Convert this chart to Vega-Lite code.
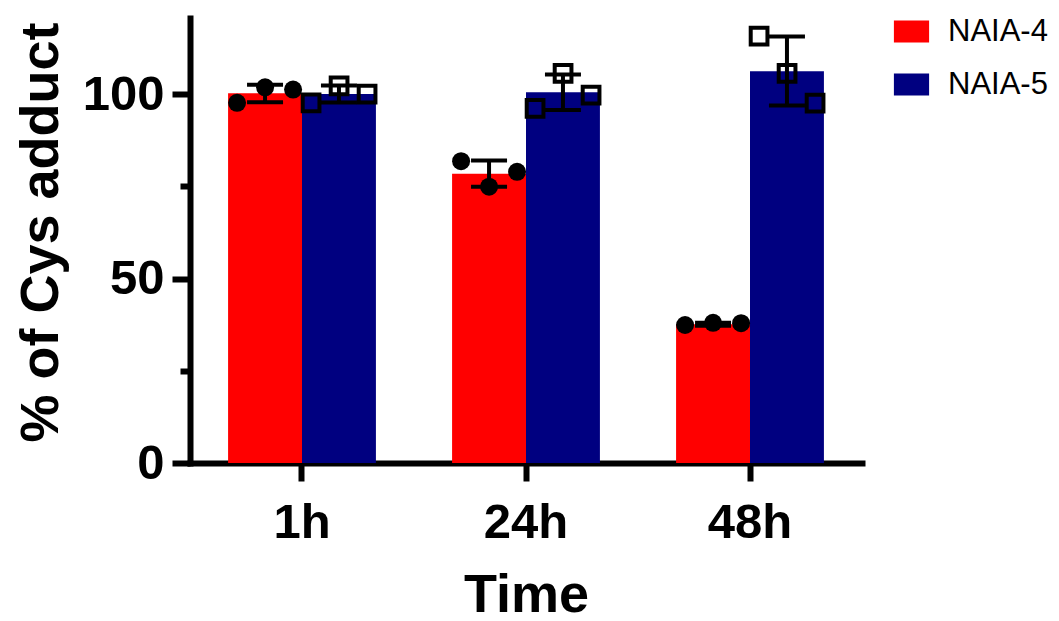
{
  "$schema": "https://vega.github.io/schema/vega-lite/v6.json",
  "width": 672,
  "height": 445,
  "autosize": {"type": "none"},
  "padding": {"left": 190, "top": 18, "right": 197, "bottom": 158},
  "background": "white",
  "config": {"view": {"stroke": null}, "font": "Liberation Sans"},
  "datasets": {
    "summary": [
      {"time": "1h", "series": "NAIA-4", "mean": 100.2, "lo": 97.8, "hi": 102.5},
      {"time": "1h", "series": "NAIA-5", "mean": 100.0, "lo": 97.7, "hi": 102.3},
      {"time": "24h", "series": "NAIA-4", "mean": 78.4, "lo": 74.9, "hi": 82.0},
      {"time": "24h", "series": "NAIA-5", "mean": 100.5, "lo": 95.7, "hi": 105.3},
      {"time": "48h", "series": "NAIA-4", "mean": 37.6, "lo": 37.2, "hi": 38.0},
      {"time": "48h", "series": "NAIA-5", "mean": 106.2, "lo": 96.9, "hi": 115.6}
    ],
    "points": [
      {"time": "1h", "series": "NAIA-4", "rep": "1", "value": 97.6},
      {"time": "1h", "series": "NAIA-4", "rep": "2", "value": 101.8},
      {"time": "1h", "series": "NAIA-4", "rep": "3", "value": 101.2},
      {"time": "1h", "series": "NAIA-5", "rep": "1", "value": 97.6},
      {"time": "1h", "series": "NAIA-5", "rep": "2", "value": 102.2},
      {"time": "1h", "series": "NAIA-5", "rep": "3", "value": 100.0},
      {"time": "24h", "series": "NAIA-4", "rep": "1", "value": 81.8},
      {"time": "24h", "series": "NAIA-4", "rep": "2", "value": 74.9},
      {"time": "24h", "series": "NAIA-4", "rep": "3", "value": 78.9},
      {"time": "24h", "series": "NAIA-5", "rep": "1", "value": 96.1},
      {"time": "24h", "series": "NAIA-5", "rep": "2", "value": 105.6},
      {"time": "24h", "series": "NAIA-5", "rep": "3", "value": 99.7},
      {"time": "48h", "series": "NAIA-4", "rep": "1", "value": 37.4},
      {"time": "48h", "series": "NAIA-4", "rep": "2", "value": 38.0},
      {"time": "48h", "series": "NAIA-4", "rep": "3", "value": 37.9},
      {"time": "48h", "series": "NAIA-5", "rep": "1", "value": 115.7},
      {"time": "48h", "series": "NAIA-5", "rep": "2", "value": 105.6},
      {"time": "48h", "series": "NAIA-5", "rep": "3", "value": 97.5}
    ]
  },
  "layer": [
    {
      "data": {"name": "summary"},
      "mark": {"type": "bar"},
      "encoding": {
        "x": {
          "field": "time", "type": "nominal", "sort": ["1h", "24h", "48h"], "title": "Time",
          "scale": {"paddingInner": 0.34, "paddingOuter": 0.17},
          "axis": {
            "domainColor": "black", "domainWidth": 6, "domainCap": "square",
            "tickColor": "black", "tickWidth": 6, "tickSize": 18,
            "labelFont": "Liberation Sans", "labelFontWeight": "bold", "labelFontSize": 49,
            "labelColor": "black", "labelAngle": 0, "labelBaseline": "alphabetic", "labelPadding": 56,
            "titleFont": "Liberation Sans", "titleFontWeight": "bold", "titleFontSize": 54,
            "titleColor": "black", "titleBaseline": "alphabetic", "titleY": 148
          }
        },
        "xOffset": {"field": "series", "type": "nominal", "sort": ["NAIA-4", "NAIA-5"]},
        "y": {
          "field": "mean", "type": "quantitative", "title": "% of Cys adduct",
          "scale": {"domain": [0, 120.6], "nice": false},
          "axis": {
            "values": [0, 25, 50, 75, 100],
            "labelExpr": "datum.value % 50 === 0 ? datum.label : ''",
            "tickSize": {"condition": {"test": "datum.value % 50 === 0", "value": 18}, "value": 10},
            "grid": false,
            "domainColor": "black", "domainWidth": 6, "domainCap": "square",
            "tickColor": "black", "tickWidth": 6,
            "labelFont": "Liberation Sans", "labelFontWeight": "bold", "labelFontSize": 49,
            "labelColor": "black", "labelPadding": 8, "labelBaseline": "middle",
            "titleFont": "Liberation Sans", "titleFontWeight": "bold", "titleFontSize": 54,
            "titleColor": "black", "titleX": -133, "titleY": 214, "titleAngle": -90,
            "titleAlign": "center", "titleBaseline": "alphabetic"
          }
        },
        "color": {
          "field": "series", "type": "nominal",
          "scale": {"domain": ["NAIA-4", "NAIA-5"], "range": ["#FF0000", "#000080"]},
          "legend": {
            "title": null, "orient": "none", "legendX": 706, "legendY": -2,
            "symbolType": "M-1.6,-1H1.6V1H-1.6Z", "symbolSize": 484, "symbolStrokeWidth": 0,
            "labelFont": "Liberation Sans", "labelFontSize": 31, "labelColor": "black",
            "labelOffset": 21, "rowPadding": 21, "padding": 0
          }
        }
      }
    },
    {
      "data": {"name": "summary"},
      "mark": {"type": "rule", "color": "black", "strokeWidth": 4, "opacity": 1},
      "encoding": {
        "x": {"field": "time", "type": "nominal", "sort": ["1h", "24h", "48h"], "title": "Time"},
        "xOffset": {"field": "series", "type": "nominal", "sort": ["NAIA-4", "NAIA-5"]},
        "y": {"field": "lo", "type": "quantitative", "title": "% of Cys adduct", "scale": {"domain": [0, 120.6], "nice": false}},
        "y2": {"field": "hi"}
      }
    },
    {
      "data": {"name": "summary"},
      "mark": {"type": "tick", "color": "black", "opacity": 1, "thickness": 4, "size": 36, "orient": "horizontal"},
      "encoding": {
        "x": {"field": "time", "type": "nominal", "sort": ["1h", "24h", "48h"], "title": "Time"},
        "xOffset": {"field": "series", "type": "nominal", "sort": ["NAIA-4", "NAIA-5"]},
        "y": {"field": "lo", "type": "quantitative", "title": "% of Cys adduct", "scale": {"domain": [0, 120.6], "nice": false}}
      }
    },
    {
      "data": {"name": "summary"},
      "mark": {"type": "tick", "color": "black", "opacity": 1, "thickness": 4, "size": 36, "orient": "horizontal"},
      "encoding": {
        "x": {"field": "time", "type": "nominal", "sort": ["1h", "24h", "48h"], "title": "Time"},
        "xOffset": {"field": "series", "type": "nominal", "sort": ["NAIA-4", "NAIA-5"]},
        "y": {"field": "hi", "type": "quantitative", "title": "% of Cys adduct", "scale": {"domain": [0, 120.6], "nice": false}}
      }
    },
    {
      "data": {"name": "points"},
      "transform": [{"filter": "datum.series === 'NAIA-4'"}],
      "mark": {"type": "point", "shape": "circle", "filled": true, "color": "black", "opacity": 1, "size": 324},
      "encoding": {
        "x": {"field": "time", "type": "nominal", "sort": ["1h", "24h", "48h"], "title": "Time"},
        "xOffset": {"field": "rep", "type": "nominal", "scale": {"domain": ["1", "2", "3"], "range": [-5, 79]}},
        "y": {"field": "value", "type": "quantitative", "title": "% of Cys adduct", "scale": {"domain": [0, 120.6], "nice": false}}
      }
    },
    {
      "data": {"name": "points"},
      "transform": [{"filter": "datum.series === 'NAIA-5'"}],
      "mark": {"type": "point", "shape": "square", "filled": false, "stroke": "black", "strokeWidth": 4, "opacity": 1, "size": 280},
      "encoding": {
        "x": {"field": "time", "type": "nominal", "sort": ["1h", "24h", "48h"], "title": "Time"},
        "xOffset": {"field": "rep", "type": "nominal", "scale": {"domain": ["1", "2", "3"], "range": [69, 153]}},
        "y": {"field": "value", "type": "quantitative", "title": "% of Cys adduct", "scale": {"domain": [0, 120.6], "nice": false}}
      }
    }
  ],
  "resolve": {"scale": {"xOffset": "independent"}}
}
